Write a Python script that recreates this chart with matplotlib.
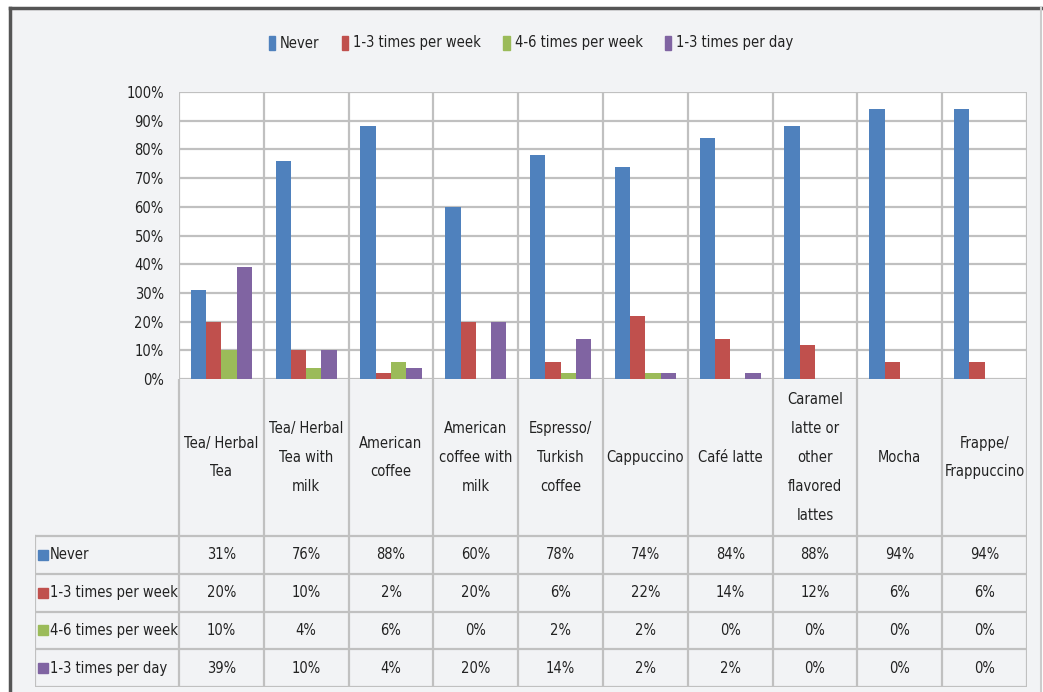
import numpy as np
import matplotlib
matplotlib.use("Agg")
import matplotlib.pyplot as plt
from matplotlib import font_manager
from matplotlib.patches import Rectangle
from matplotlib.lines import Line2D

categories = ["Tea/ Herbal\nTea", "Tea/ Herbal\nTea with\nmilk", "American\ncoffee",
              "American\ncoffee with\nmilk", "Espresso/\nTurkish\ncoffee", "Cappuccino",
              "Café latte", "Caramel\nlatte or\nother\nflavored\nlattes", "Mocha",
              "Frappe/\nFrappuccino"]
series_names = ["Never", "1-3 times per week", "4-6 times per week", "1-3 times per day"]
never = [31, 76, 88, 60, 78, 74, 84, 88, 94, 94]
week_1_3 = [20, 10, 2, 20, 6, 22, 14, 12, 6, 6]
week_4_6 = [10, 4, 6, 0, 2, 2, 0, 0, 0, 0]
day_1_3 = [39, 10, 4, 20, 14, 2, 2, 0, 0, 0]
series = [never, week_1_3, week_4_6, day_1_3]
colors = ['#4F81BD', '#C0504D', '#9BBB59', '#8064A2']

# pick a narrow font if one is installed (the original uses a condensed Calibri look)
fonts = font_manager.fontManager.ttflist
names = {f.name for f in fonts}
if 'Liberation Sans Narrow' in names:
    plt.rcParams['font.family'] = ['Liberation Sans Narrow', 'DejaVu Sans']
    fs = 12
elif any(f.name == 'DejaVu Sans' and 'condensed' in str(f.stretch) for f in fonts):
    plt.rcParams['font.family'] = ['DejaVu Sans']
    plt.rcParams['font.stretch'] = 'condensed'
    fs = 10.5
else:
    plt.rcParams['font.family'] = ['Liberation Sans', 'DejaVu Sans']
    fs = 10

W, H = 1043, 692
bg = '#F2F3F5'
grid_c = '#C0C0C0'
txt_c = '#222222'

fig = plt.figure(figsize=(W / 100, H / 100), dpi=100, facecolor='white')

# chart area frame
fig.patches.append(Rectangle((10 / W, 0), (1041 - 10) / W, 1 - 8 / H, transform=fig.transFigure,
                             facecolor=bg, edgecolor='none', zorder=-10))
fig.add_artist(Line2D([10 / W, 1041 / W], [1 - 8 / H] * 2, color='#555555', lw=2.5))
fig.add_artist(Line2D([10 / W] * 2, [0, 1 - 8 / H], color='#555555', lw=2.5))
fig.add_artist(Line2D([1041 / W] * 2, [0, 1 - 8 / H], color='#CCCCCC', lw=1.5))

# bar plot area
x0, x1, ytop, ybot = 179, 1027, 92, 379
ax = fig.add_axes([x0 / W, 1 - ybot / H, (x1 - x0) / W, (ybot - ytop) / H])
ax.set_facecolor('white')
n = len(categories)
ax.set_xlim(0, n)
ax.set_ylim(0, 100)
bw = 0.18
x = np.arange(n) + 0.5
for j, (vals, col) in enumerate(zip(series, colors)):
    ax.bar(x + (j - 1.5) * bw, vals, width=bw, color=col, label=series_names[j], zorder=3)
ax.set_yticks(np.arange(0, 101, 10))
ax.set_yticklabels([f"{v}%" for v in range(0, 101, 10)], fontsize=fs, color=txt_c)
ax.set_xticks([])
ax.tick_params(axis='y', length=0, pad=11)
for v in range(0, 101, 10):
    ax.axhline(v, color=grid_c, lw=1.6, zorder=1)
for i in range(n + 1):
    ax.axvline(i, color=grid_c, lw=1.6, zorder=1)
for s in ax.spines.values():
    s.set_visible(False)

# category labels + data table
tx0, tbot = 35, 687
row_h = 37.75
label_h = (536 - ybot) / row_h
unit = (x1 - x0) / n
tab = fig.add_axes([tx0 / W, 1 - tbot / H, (x1 - tx0) / W, (tbot - ybot) / H])
tab.set_xlim(-(x0 - tx0) / unit, n)
nrows = len(series)
tab.set_ylim(label_h + nrows, 0)
tab.axis('off')
tab.patch.set_alpha(0)
xl = -(x0 - tx0) / unit
for i in range(n + 1):
    tab.plot([i, i], [0, label_h + nrows], color=grid_c, lw=1.6)
tab.plot([xl, xl], [label_h, label_h + nrows], color=grid_c, lw=1.6)
for k in range(nrows + 1):
    tab.plot([xl, n], [label_h + k, label_h + k], color=grid_c, lw=1.6)
for i, cat in enumerate(categories):
    tab.text(i + 0.5, label_h / 2, cat, ha='center', va='center', fontsize=fs,
             color=txt_c, linespacing=2.15)
for k, (vals, col, name) in enumerate(zip(series, colors, series_names)):
    yc = label_h + k + 0.5
    tab.plot([xl + 8 / unit], [yc], marker='s', ms=7, color=col, ls='none')
    tab.text(xl + 15 / unit, yc, name, ha='left', va='center', fontsize=fs, color=txt_c)
    for i, v in enumerate(vals):
        tab.text(i + 0.5, yc, f"{v}%", ha='center', va='center', fontsize=fs, color=txt_c)

# legend
handles = [Rectangle((0, 0), 1, 1, color=c) for c in colors]
fig.legend(handles, series_names, loc='center', bbox_to_anchor=(531 / W, 1 - 43 / H),
           ncol=4, frameon=False, fontsize=fs, handlelength=0.45, handleheight=1.1,
           handletextpad=0.35, columnspacing=1.5, labelcolor=txt_c)

fig.savefig('out.png', dpi=100, facecolor='white')
